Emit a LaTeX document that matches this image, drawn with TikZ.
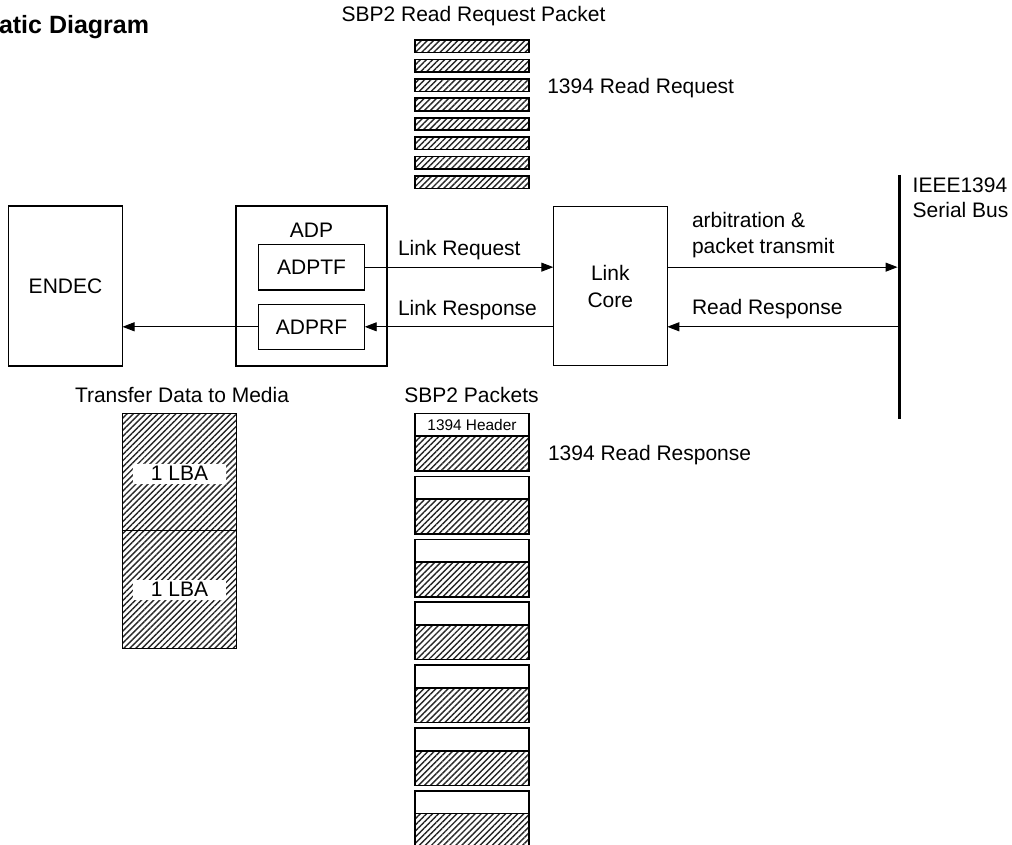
\documentclass[tikz,border=0pt]{standalone}
\usepackage{fontspec}
\setmainfont{Liberation Sans}
\usetikzlibrary{arrows.meta,patterns.meta}
\begin{document}
\begin{tikzpicture}[x=1pt,y=-1pt,
  every node/.style={font=\fontsize{21}{25}\selectfont, inner sep=0pt, outer sep=0pt},
  box/.style={draw, line width=1.3pt, anchor=north west},
  pkt/.style={draw, line width=1.6pt, anchor=north west, minimum width=114pt},
  hatch/.style={pattern={Lines[angle=45,distance=4.3pt,line width=1.4pt]}, pattern color=black!85},
  conn/.style={line width=0.9pt, -{Triangle[length=12pt,width=9pt]}},
  lbl/.style={anchor=base west},
  lbac/.style={fill=white, minimum width=93pt, minimum height=20pt}
]
\useasboundingbox (0,0) rectangle (1012,845);
\clip (0,0) rectangle (1012,845);

% title (cut off at left edge)
\node[lbl, font=\fontsize{25}{30}\selectfont\bfseries] (title) at (-1,33.3) {atic Diagram};

% main blocks
\node[box, minimum width=114pt, minimum height=160pt] (endec) at (8.5,206) {ENDEC};
\node[box, line width=2pt, minimum width=151pt, minimum height=160pt] (adp) at (236,206) {};
\node[anchor=base] (adplbl) at (311.5,238) {ADP};
\node[box, minimum width=106.4pt, minimum height=45.7pt] (adptf) at (258.3,244.3) {ADPTF};
\node[box, minimum width=106.4pt, minimum height=45pt] (adprf) at (258.3,304.3) {ADPRF};
\node[box, minimum width=114pt, minimum height=159pt, align=center] (linkcore) at (553.3,206.7) {Link\\[2pt]Core};

% serial bus
\coordinate (bustop) at (899.3,175);
\coordinate (busbot) at (899.3,419);
\draw[line width=3.5pt] (bustop) -- (busbot);
\node[lbl] (ieee) at (912.7,192.7) {IEEE1394};
\node[lbl] (serial) at (912.7,217.3) {Serial Bus};

% connectors
\draw[conn] (adptf.east) -- (adptf.east -| linkcore.west);
\draw[conn, shorten >=1.75pt] (linkcore.east |- adptf.east) -- (bustop |- adptf.east);
\draw[conn, shorten <=1.75pt] (bustop |- adprf.east) -- (linkcore.east |- adprf.east);
\draw[conn] (linkcore.west |- adprf.east) -- (adprf.east);
\draw[conn] (adprf.west) -- (endec.east |- adprf.west);

% connector labels
\node[lbl] (lreq) at (398,255) {Link Request};
\node[lbl] (lresp) at (398,315) {Link Response};
\node[lbl] (arb1) at (692,228) {arbitration \&};
\node[lbl] (arb2) at (692,253) {packet transmit};
\node[lbl] (rresp) at (692,314.3) {Read Response};

% read request packet
\node[anchor=base] (rqtitle) at (473.5,22) {SBP2 Read Request Packet};
\foreach \i in {0,...,7}{
  \node[pkt, hatch, minimum height=12.5pt] (rq\i) at (415,{40+19.43*\i}) {};
}
\node[lbl] (rqlbl) at (547.3,93.3) {1394 Read Request};

% transfer data to media
\node[anchor=base] (tdlbl) at (182,402.7) {Transfer Data to Media};
\node[box, hatch, minimum width=114pt, minimum height=117.4pt] (lba1) at (122.3,413.3) {};
\node[box, hatch, minimum width=114pt, minimum height=117.6pt] (lba2) at (122.3,530.7) {};
\node[lbac] (lba1t) at (179.5,473.5) {1 LBA};
\node[lbac] (lba2t) at (179.5,589.5) {1 LBA};

% SBP2 packets
\node[anchor=base] (sbplbl) at (471.5,402.7) {SBP2 Packets};
\foreach \i in {0,...,6}{
  \node[pkt, minimum height=22.7pt, fill=white] (h\i) at (415,{413.5+62.9*\i}) {};
  \node[pkt, hatch, minimum height=34.7pt] (d\i) at (h\i.south west) {};
}
\node[font=\fontsize{15.4}{18}\selectfont] (hdr) at (h0.center) {1394 Header};
\node[lbl] (rrlbl) at (548,460.5) {1394 Read Response};
\end{tikzpicture}
\end{document}
